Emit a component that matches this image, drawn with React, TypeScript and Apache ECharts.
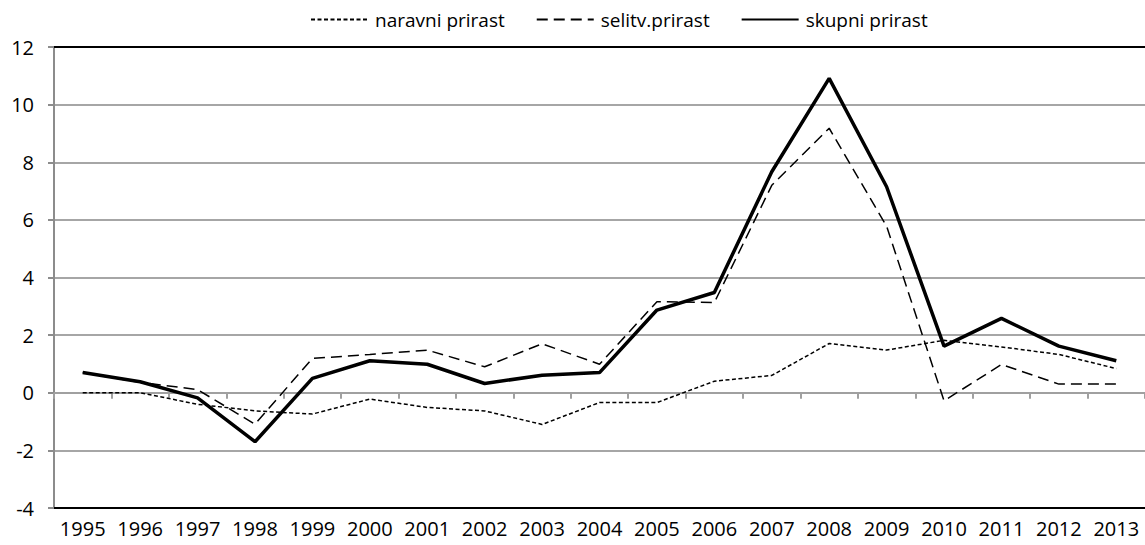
import React, { useEffect, useRef } from "react";
import * as echarts from "echarts";

const years = ["1995","1996","1997","1998","1999","2000","2001","2002","2003","2004","2005","2006","2007","2008","2009","2010","2011","2012","2013"];
const naravni = [0, 0, -0.4, -0.63, -0.74, -0.22, -0.51, -0.63, -1.1, -0.34, -0.34, 0.4, 0.6, 1.71, 1.48, 1.82, 1.59, 1.33, 0.84];
const selitv = [0.7, 0.36, 0.11, -1.09, 1.19, 1.33, 1.48, 0.9, 1.7, 0.99, 3.16, 3.13, 7.2, 9.18, 5.78, -0.28, 0.98, 0.3, 0.3];
const skupni = [0.7, 0.38, -0.18, -1.7, 0.5, 1.11, 0.99, 0.32, 0.61, 0.7, 2.87, 3.48, 7.67, 10.91, 7.15, 1.62, 2.58, 1.62, 1.11];
const seriesNames = ["naravni prirast", "selitv.prirast", "skupni prirast"];
const yTicks = { min: -4, max: 12, interval: 2 };

const FONT = "'Open Sans', sans-serif";

export default function App() {
  const ref = useRef<HTMLDivElement>(null);
  useEffect(() => {
    if (!ref.current) return;
    const chart = echarts.init(ref.current, undefined, { renderer: "svg" });
    chart.setOption({
      animation: false,
      backgroundColor: "#fff",
      textStyle: { fontFamily: FONT },
      legend: {
        left: 305,
        top: 5,
        itemWidth: 57,
        itemHeight: 16,
        itemGap: 31,
        itemStyle: { color: "transparent", borderWidth: 0, opacity: 0 },
        textStyle: { fontSize: 19, color: "#000", fontFamily: FONT, padding: [0, 0, 0, 2] },
        data: seriesNames,
      },
      grid: { left: 54, top: 47, width: 1097, height: 461, containLabel: false },
      xAxis: [
        {
          type: "category",
          data: years,
          position: "bottom",
          axisLine: { show: true, onZero: false, lineStyle: { color: "#000", width: 2 } },
          axisTick: { show: false },
          axisLabel: { fontSize: 20, color: "#000", margin: 10, fontFamily: FONT, interval: 0 },
          splitLine: { show: false },
        },
        {
          type: "category",
          data: years,
          position: "top",
          axisLine: { show: true, onZero: false, lineStyle: { color: "#000", width: 2 } },
          axisTick: { show: false },
          axisLabel: { show: false },
          splitLine: { show: false },
        },
        {
          type: "category",
          data: years,
          position: "bottom",
          axisLine: { show: true, onZero: true, onZeroAxisIndex: 0, lineStyle: { color: "#a0a0a0", width: 2 } },
          axisTick: { show: true, length: 6, interval: 0, lineStyle: { color: "#a0a0a0", width: 2 } },
          axisLabel: { show: false },
          splitLine: { show: false },
        },
      ],
      yAxis: {
        type: "value",
        min: yTicks.min,
        max: yTicks.max,
        interval: yTicks.interval,
        axisLine: { show: true, lineStyle: { color: "#8c8c8c", width: 2 } },
        axisTick: { show: true, length: 6, lineStyle: { color: "#8c8c8c", width: 2 } },
        axisLabel: { fontSize: 20, color: "#000", margin: 20, fontFamily: FONT },
        splitLine: { show: true, lineStyle: { color: "#a6a6a6", width: 2 } },
      },
      series: [
        {
          name: seriesNames[0],
          type: "line",
          data: naravni,
          symbol: "emptyCircle",
          showSymbol: false,
          xAxisIndex: 0,
          lineStyle: { color: "#000", width: 1.5, type: [4, 2.5] },
          itemStyle: { color: "#000" },
          z: 3,
        },
        {
          name: seriesNames[1],
          type: "line",
          data: selitv,
          symbol: "emptyCircle",
          showSymbol: false,
          xAxisIndex: 0,
          lineStyle: { color: "#000", width: 1.5, type: [11, 6] },
          itemStyle: { color: "#000" },
          z: 4,
        },
        {
          name: seriesNames[2],
          type: "line",
          data: skupni,
          symbol: "emptyCircle",
          showSymbol: false,
          xAxisIndex: 0,
          lineStyle: { color: "#000", width: 3.5 },
          itemStyle: { color: "#000" },
          z: 5,
        },
      ],
    });
    return () => chart.dispose();
  }, []);
  return (
    <div
      ref={ref}
      style={{ position: "absolute", left: 0, top: 0, width: 1145, height: 545, overflow: "hidden" }}
    />
  );
}
